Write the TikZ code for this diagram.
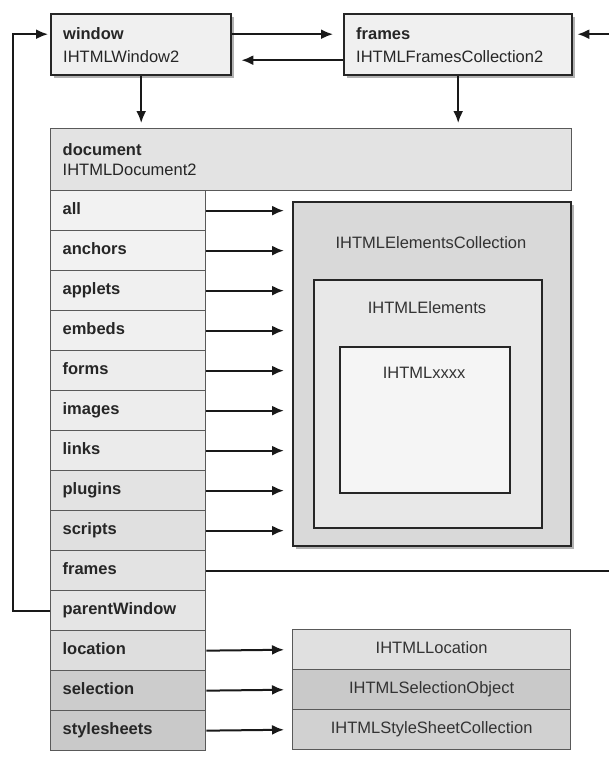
\documentclass[tikz,border=0pt]{standalone}
\usepackage{fontspec}
\setmainfont{Liberation Sans}
\usetikzlibrary{arrows.meta,shadows,calc}
\begin{document}
\begin{tikzpicture}[x=1pt,y=-1pt,
  font=\fontsize{16.5}{20}\selectfont,
  arr/.style={line width=2pt,draw=black!90,-{Latex[length=12pt,width=10pt]}},
  shad/.style={drop shadow={shadow xshift=2.5pt,shadow yshift=-2.5pt,opacity=0.3,fill=black}},
  topbox/.style={draw=black!85,line width=2.4pt,fill=black!6,anchor=north west,
    inner xsep=12pt,inner ysep=0pt,align=left,minimum height=61pt,text=black!85,shad},
  rowbox/.style={draw=black!65,line width=1.3pt,anchor=north west,inner xsep=12pt,inner ysep=0pt,
    text width=131pt,text height=12pt,text depth=4pt,minimum height=40pt,align=left,
    font=\fontsize{16.5}{20}\selectfont\bfseries,text=black!85},
  nest/.style={draw=black!85,line width=2.4pt,anchor=north west,inner sep=0pt},
  nestlabel/.style={text=black!80},
  infobox/.style={draw=black!65,line width=1.3pt,anchor=north west,inner sep=0pt,
    text height=12pt,text depth=4pt,minimum width=278pt,minimum height=40pt,text=black!80}
]
\useasboundingbox (0,0) rectangle (608,760);

% top boxes
\node[topbox,text width=156pt] (window) at (50,13)
  {{\bfseries window}\\[3pt]IHTMLWindow2};
\node[topbox,text width=204pt] (frames) at (343,13)
  {{\bfseries frames}\\[3pt]IHTMLFramesCollection2};

% document
\node[draw=black!65,line width=1.4pt,fill=black!11,anchor=north west,inner xsep=12pt,inner ysep=0pt,
  text width=497pt,minimum height=62pt,align=left,text=black!85] (doc) at (50,128)
  {{\bfseries document}\\IHTMLDocument2};

% rows
\foreach \i/\lab/\shade in {0/all/5,1/anchors/5,2/applets/6,3/embeds/6,4/forms/7,5/images/7,
  6/links/8,7/plugins/11,8/scripts/12,9/frames/11,10/parentWindow/10,11/location/13,
  12/selection/20,13/stylesheets/21}{
  \node[rowbox,fill=black!\shade] (r\i) at (50,190+40*\i) {\lab};
}

% nested collection boxes
\node[nest,fill=black!15,minimum width=278pt,minimum height=344pt,shad] (big) at (292,201) {};
\node[nestlabel] (bigl) at (431,243) {IHTMLElementsCollection};
\node[nest,fill=black!9,minimum width=228pt,minimum height=248pt] (elem) at (313,279) {};
\node[nestlabel] (eleml) at (427,308) {IHTMLElements};
\node[nest,fill=black!4,minimum width=170pt,minimum height=146pt] (xxxx) at (339,346) {};
\node[nestlabel] (xxxxl) at (424,373) {IHTMLxxxx};

% bottom boxes
\node[infobox,fill=black!12] (loc) at (292,629) {IHTMLLocation};
\node[infobox,fill=black!21] (sel) at (292,669) {IHTMLSelectionObject};
\node[infobox,fill=black!18] (ssc) at (292,709) {IHTMLStyleSheetCollection};

% arrows between window and frames
\draw[arr,shorten >=10pt] ([yshift=10.5pt]window.east) -- ([yshift=10.5pt]frames.west);
\draw[arr,shorten >=9pt] ([yshift=-15.5pt]frames.west) -- ([yshift=-15.5pt]window.east);
\draw[arr,shorten >=5pt] (window.south) -- (window.south |- doc.north);
\draw[arr,shorten >=5pt] (frames.south) -- (frames.south |- doc.north);

% collection arrows
\foreach \i in {0,...,8}{
  \draw[arr,shorten >=8pt] (r\i.east) -- (r\i.east -| big.west);
}
\draw[arr,shorten >=8pt] (r11.east) -- (loc.west);
\draw[arr,shorten >=8pt] (r12.east) -- (sel.west);
\draw[arr,shorten >=8pt] (r13.east) -- (ssc.west);

% loops
\coordinate (lx) at (13,0);
\coordinate (rx) at (616,0);
\draw[arr,shorten >=2pt] (r10.west) -- (r10.west -| lx) |- ([yshift=10.5pt]window.west);
\draw[arr,shorten >=4pt] (r9.east) -- (r9.east -| rx) |- ([yshift=10.5pt]frames.east);
\end{tikzpicture}
\end{document}
